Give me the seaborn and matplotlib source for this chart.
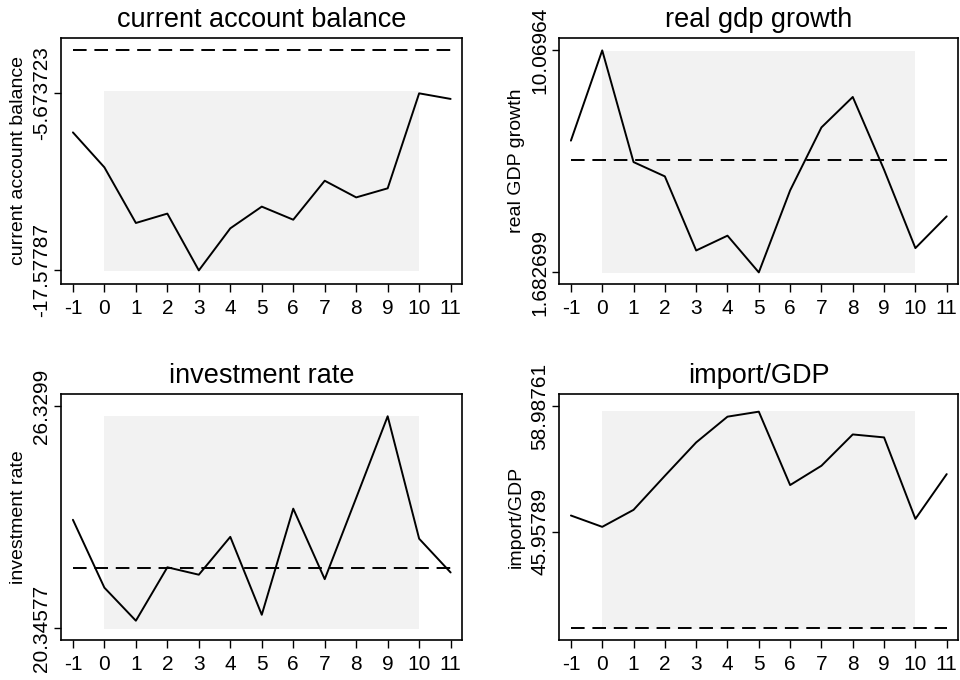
import numpy as np
import pandas as pd
import matplotlib
matplotlib.use("Agg")
import matplotlib.pyplot as plt
import seaborn as sns

# ── data ────────────────────────────────────────────────────────────────────
periods = [-1, 0, 1, 2, 3, 4, 5, 6, 7, 8, 9, 10, 11]

cab = [-8.30, -10.65, -14.39, -13.76, -17.57787, -14.75, -13.29,
       -14.17, -11.55, -12.67, -12.06, -5.673723, -6.05]
gdp = [6.66, 10.06964, 5.85, 5.31, 2.51, 3.07, 1.682699,
       4.78, 7.16, 8.31, 5.56, 2.60, 3.80]
inv = [23.27, 21.44, 20.55, 21.99, 21.79, 22.81, 20.71,
       23.57, 21.67, 23.86, 26.06, 22.76, 21.85]
imp = [47.63, 46.45, 48.22, 51.76, 55.24, 57.92, 58.44,
       50.80, 52.81, 56.07, 55.76, 47.28, 51.94]

benchmarks = [-2.78, 5.94, 21.97, 35.89]
shade_lo = [-17.60, 1.66, 20.32, 35.78]
shade_hi = [-5.49, 10.03, 26.08, 58.51]
shade_x = [0, 10]

titles = ["current account balance", "real gdp growth",
          "investment rate", "import/GDP"]
ylabels = ["current account balance", "real GDP growth",
           "investment rate", "import/GDP"]
yticks = [[-17.57787, -5.673723], [1.682699, 10.06964],
          [20.34577, 26.3299], [45.95789, 58.98761]]
ytick_labels = [["-17.57787", "-5.673723"], ["1.682699", "10.06964"],
                ["20.34577", "26.3299"], ["45.95789", "58.98761"]]
ylims = [(-18.49, -1.95), (1.245, 10.54), (20.03, 26.66), (34.67, 60.28)]

series = [cab, gdp, inv, imp]

# ── styling ─────────────────────────────────────────────────────────────────
sns.set_theme(style="white")
plt.rcParams["font.family"] = ["Liberation Sans", "DejaVu Sans"]
plt.rcParams.update({
    "text.color": "black",
    "axes.labelcolor": "black",
    "xtick.color": "black",
    "ytick.color": "black",
})

fig = plt.figure(figsize=(9.6, 6.8), dpi=100)
positions = [
    [0.0635, 0.5824, 0.4177, 0.3618],
    [0.5823, 0.5824, 0.4156, 0.3618],
    [0.0635, 0.0588, 0.4177, 0.3618],
    [0.5823, 0.0588, 0.4156, 0.3618],
]

for i, pos in enumerate(positions):
    ax = fig.add_axes(pos)
    df = pd.DataFrame({"t": periods, "v": series[i]})

    # shaded window and dashed benchmark
    ax.fill_between(shade_x, shade_lo[i], shade_hi[i],
                    color="#f2f2f2", lw=0, zorder=0)
    ax.hlines(benchmarks[i], periods[0], periods[-1], color="black",
              lw=1.4, linestyles=(0, (7, 4)), zorder=1)
    sns.lineplot(data=df, x="t", y="v", ax=ax, color="black", lw=1.4,
                 zorder=2)

    ax.set_xlim(-1.38, 11.36)
    ax.set_ylim(*ylims[i])
    ax.set_xticks(periods)
    ax.set_xticklabels([str(p) for p in periods])
    ax.set_yticks(yticks[i])
    ax.set_yticklabels(ytick_labels[i], rotation=90, va="center")

    ax.set_title(titles[i], fontsize=19.5, pad=8)
    ax.set_xlabel("")
    ax.set_ylabel(ylabels[i], fontsize=14, labelpad=4)

    ax.tick_params(axis="x", direction="out", length=6, width=1,
                   labelsize=15, pad=5, bottom=True)
    ax.tick_params(axis="y", direction="out", length=5, width=1,
                   labelsize=15, pad=2, left=True)
    for sp in ax.spines.values():
        sp.set_visible(True)
        sp.set_color("black")
        sp.set_linewidth(1.2)

plt.savefig("out.png", dpi=100)
plt.close()
